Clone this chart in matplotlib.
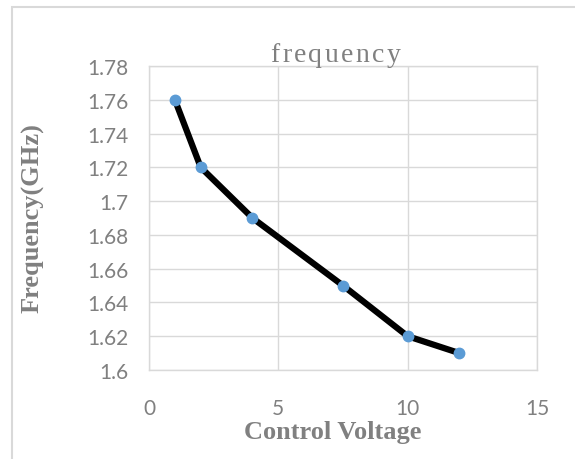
import matplotlib.pyplot as plt
from matplotlib.patches import Rectangle
from matplotlib.textpath import TextPath
from matplotlib.font_manager import FontProperties

# data
voltage = [1, 2, 4, 7.5, 10, 12]
frequency = [1.76, 1.72, 1.69, 1.65, 1.62, 1.61]
x_ticks = [0, 5, 10, 15]
y_ticks = [1.6, 1.62, 1.64, 1.66, 1.68, 1.7, 1.72, 1.74, 1.76, 1.78]
y_labels = ['1.6', '1.62', '1.64', '1.66', '1.68', '1.7', '1.72', '1.74', '1.76', '1.78']
title = 'frequency'

W, H = 575, 460
fig = plt.figure(figsize=(W / 100, H / 100), dpi=100)

# chart frame (runs off the right and bottom of the image)
fig.patches.append(Rectangle((12 / W, -0.1), 1.2, 1 - 7.5 / H + 0.1,
                             transform=fig.transFigure, fill=False,
                             edgecolor='#d9d9d9', lw=1.5))

ax = fig.add_axes([149 / W, 1 - 371 / H, (537 - 149) / W, (371 - 67) / H])

grid_c = '#d9d9d9'
text_c = '#808080'

ax.plot(voltage, frequency, color='black', lw=4.5, zorder=3,
        solid_capstyle='round', solid_joinstyle='round')
ax.plot(voltage, frequency, 'o', color='#5b9bd5', ms=7.5, zorder=4)

ax.set_xlim(0, 15)
ax.set_ylim(1.6, 1.78)
ax.set_xticks(x_ticks)
ax.set_yticks(y_ticks)
ax.set_yticklabels(y_labels)
ax.grid(True, color=grid_c, lw=1)
ax.set_axisbelow(True)
for s in ax.spines.values():
    s.set_color(grid_c)
    s.set_linewidth(1)
ax.tick_params(length=0, colors=text_c, labelsize=15)
ax.tick_params(axis='x', pad=20)
ax.tick_params(axis='y', pad=15)
for lab in ax.get_xticklabels() + ax.get_yticklabels():
    lab.set_fontfamily('Lato')

fig.text(333 / W, 1 - 433 / H, 'Control Voltage', family='Liberation Serif',
         weight='bold', fontsize=19, color=text_c, ha='center', va='center')
fig.text(33 / W, 1 - 218 / H, 'Frequency(GHz)', family='Liberation Serif',
         weight='bold', fontsize=19, color=text_c, ha='center', va='center',
         rotation=90)

# title with a little letter spacing, one glyph at a time
fp = FontProperties(family='Liberation Serif', size=20)
px_per_pt = 100 / 72
gap = 2.5
starts = [0] + [TextPath((0, 0), title[:i], prop=fp).get_extents().x1 * px_per_pt
                for i in range(1, len(title))]
full = TextPath((0, 0), title, prop=fp).get_extents().x1 * px_per_pt
x0 = 336 - (full + gap * (len(title) - 1)) / 2
for i, c in enumerate(title):
    fig.text((x0 + starts[i] + gap * i) / W, 1 - 62 / H, c, fontproperties=fp,
             color=text_c, ha='left', va='baseline')

fig.savefig('out.png', dpi=100)
